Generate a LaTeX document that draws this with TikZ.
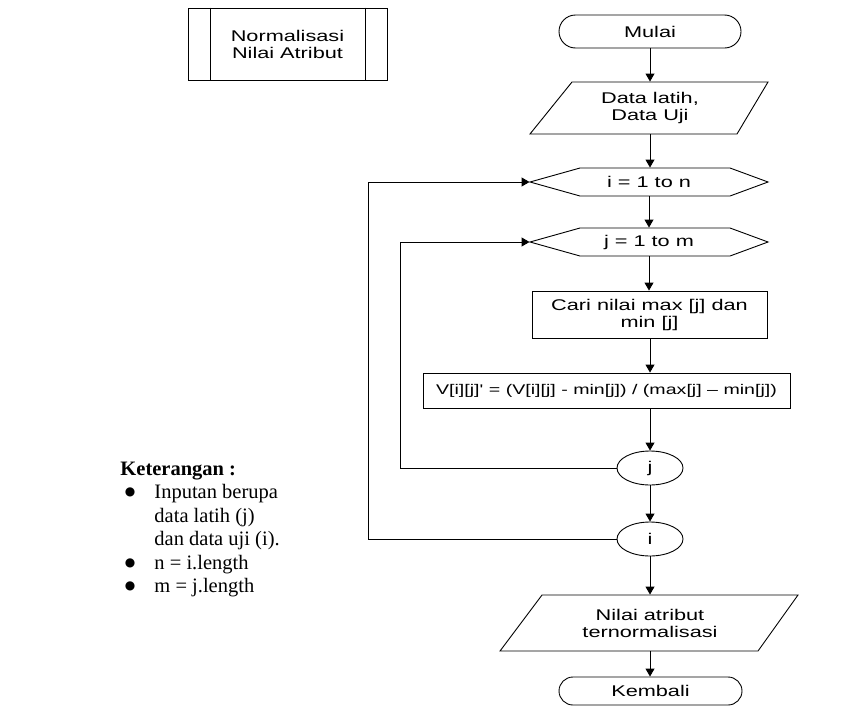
\documentclass[tikz,border=0pt]{standalone}
\usepackage{fontspec}
\setmainfont{Liberation Serif}
\newfontfamily\fcf[FakeStretch=1.4]{Liberation Sans}
\newfontfamily\djv{DejaVu Sans}
\usetikzlibrary{arrows.meta,shapes.geometric}
\begin{document}
\begin{tikzpicture}[x=1pt,y=-1pt,
  line width=0.9pt,
  arr/.style={-{Triangle[length=8pt,width=9pt]}},
  ft/.style={font=\fcf\fontsize{15.5}{17}\selectfont, align=center, inner sep=0pt},
  boxx/.style={draw, ft},
  term/.style={draw, ft},
  blank/.style={ft},
  circ/.style={draw, ellipse, ft, minimum width=66pt, minimum height=34pt},
  leg/.style={font=\fontsize{20.5}{23.5}\selectfont, anchor=base west, inner sep=0pt},
  bul/.style={font=\djv\fontsize{12}{13}\selectfont, anchor=base, inner sep=0pt}
]
\useasboundingbox (0,0) rectangle (867,707);

% predefined process
\node[boxx, minimum width=199pt, minimum height=72pt] (norm) at (287.5,44) {Normalisasi\\Nilai Atribut};
\draw ([xshift=23pt]norm.north west) -- ([xshift=23pt]norm.south west);
\draw ([xshift=-22pt]norm.north east) -- ([xshift=-22pt]norm.south east);

% start
\node[term, rounded corners=16.5pt, minimum width=182pt, minimum height=33pt] (mulai) at (650,31.5) {Mulai};

% input
\node[blank, minimum width=150pt, minimum height=52pt] (data) at (650,108) {Data latih,\\Data Uji};
\draw (572,82) -- (768,82) -- (737,134) -- (530,134) -- cycle;

% loop i
\node[blank, minimum width=238pt, minimum height=28pt] (hi) at (649,182) {i = 1 to n};
\draw (530,182) -- (580,168) -- (730,168) -- (768,182) -- (730,196) -- (580,196) -- cycle;

% loop j
\node[blank, minimum width=238pt, minimum height=28pt] (hj) at (649,242) {j = 1 to m};
\draw (530,242) -- (580,228) -- (730,228) -- (768,242) -- (730,256) -- (580,256) -- cycle;

% process boxes
\node[boxx, minimum width=235pt, minimum height=47pt] (cari) at (649.5,314.5) {Cari nilai max [j] dan\\min [j]};
\node[boxx, minimum width=367pt, minimum height=35pt, font=\fcf\fontsize{14}{17}\selectfont] (v) at (606.5,390.5) {V[i][j]' = (V[i][j] - min[j]) / (max[j] – min[j])};

% connectors
\node[circ] (ej) at (650,468) {j};
\node[circ] (ei) at (650,539) {i};

% output
\node[blank, minimum width=150pt, minimum height=56pt] (out) at (650,623) {Nilai atribut\\ternormalisasi};
\draw (542,595) -- (798,595) -- (758,651) -- (500,651) -- cycle;

% end
\node[term, rounded corners=14pt, minimum width=183pt, minimum height=28pt] (kembali) at (650.5,691) {Kembali};

% arrows
\coordinate (ax) at (650,0);
\draw[arr] (mulai.south) -- (mulai.south |- data.north);
\draw[arr] (data.south) -- (data.south |- hi.north);
\draw[arr] (hi.south) -- (hi.south |- hj.north);
\draw[arr] (hj.south) -- (hj.south |- cari.north);
\draw[arr] (cari.south -| ax) -- (ax |- v.north);
\draw[arr] (ax |- v.south) -- (ej.north);
\draw[arr] (ej.south) -- (ei.north);
\draw[arr] (ei.south) -- (ei.south |- out.north);
\draw[arr] (out.south) -- (out.south |- kembali.north);

\coordinate (lj) at (400,0);
\coordinate (li) at (368,0);
\draw[arr] (ej.west) -- (ej.west -| lj) |- (hj.west);
\draw[arr] (ei.west) -- (ei.west -| li) |- (hi.west);

% legend
\node[leg, font=\fontsize{20.5}{23.5}\selectfont\bfseries] (ket) at (120,475) {Keterangan :};
\node[bul] (b1) at (130,495.5) {●};
\node[leg] (k1a) at (154,498.5) {Inputan berupa};
\node[leg] (k1b) at (154,522) {data latih (j)};
\node[leg] (k1c) at (154,545.5) {dan data uji (i).};
\node[bul] (b2) at (130,566) {●};
\node[leg] (k2) at (154,569) {n = i.length};
\node[bul] (b3) at (130,589.5) {●};
\node[leg] (k3) at (154,592.5) {m = j.length};
\end{tikzpicture}
\end{document}
